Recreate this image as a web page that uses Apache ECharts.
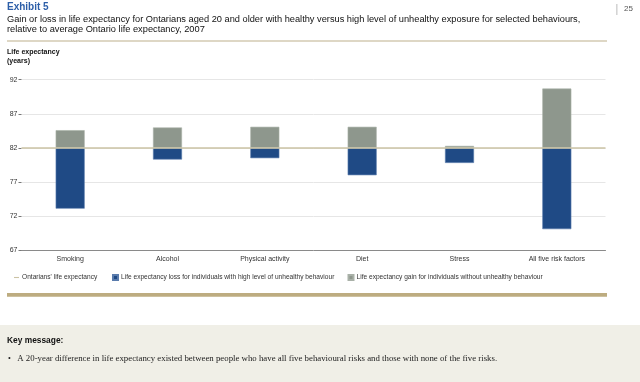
<!DOCTYPE html>
<html>
<head>
<meta charset="utf-8">
<script src="https://cdn.jsdelivr.net/npm/echarts@6/dist/echarts.min.js"></script>
<style>
html,body{margin:0;padding:0;background:#fff;}
#chart{width:640px;height:382px;}
</style>
</head>
<body>
<div id="chart"></div>
<script>
// ---- data ----
const categories = ['Smoking', 'Alcohol', 'Physical activity', 'Diet', 'Stress', 'All five risk factors'];
const averageLifeExpectancy = 82;
const highRiskLifeExpectancy = [73.1, 80.3, 80.5, 78.0, 79.8, 70.1];
const healthyLifeExpectancy = [84.6, 85.0, 85.1, 85.1, 82.3, 90.7];
const yTickLabels = [67, 72, 77, 82, 87, 92];
const seriesNames = [
  "Ontarians' life expectancy",
  'Life expectancy loss for individuals with high level of unhealthy behaviour',
  'Life expectancy gain for individuals without unhealthy behaviour'
];

// ---- build ----
const AXIS_MIN = yTickLabels[0];
const AXIS_MAX = yTickLabels[yTickLabels.length - 1];
const STEP = yTickLabels[1] - yTickLabels[0];
const baseVals = highRiskLifeExpectancy.map(v => +(v - AXIS_MIN).toFixed(2));
const lossVals = highRiskLifeExpectancy.map(v => +(averageLifeExpectancy - v).toFixed(2));
const gainVals = healthyLifeExpectancy.map(v => +(v - averageLifeExpectancy).toFixed(2));

const SANS = '"Liberation Sans", Arial, Helvetica, sans-serif';
const SERIF = '"Liberation Serif", "DejaVu Serif", serif';
const BLUE = '#1f4a85';
const GRAY = '#8e978d';
const TAN = '#cbc3a4';

const chart = echarts.init(document.getElementById('chart'), null, {renderer: 'canvas'});

function legendAt(left, name, icon) {
  return {
    left: left, top: 274, orient: 'horizontal', selectedMode: false,
    itemWidth: 5, itemHeight: 5, itemGap: 0, padding: 0,
    textStyle: {fontFamily: SANS, fontSize: 6.6, color: '#333', padding: [0, 0, 0, -2]},
    data: [{name: name, icon: icon}]
  };
}

chart.setOption({
  animation: false,
  backgroundColor: '#fff',
  textStyle: {fontFamily: SANS},
  grid: {left: 21.5, right: 34.5, top: 79.7, bottom: 131.7, containLabel: false},
  legend: [
    legendAt(14, seriesNames[0], 'path://M0,0L10,0L10,2.2L0,2.2Z'),
    legendAt(112, seriesNames[1], 'rect'),
    legendAt(347.5, seriesNames[2], 'rect')
  ],
  xAxis: {
    type: 'category',
    data: categories,
    axisLine: {show: true, lineStyle: {color: '#8a8a8a', width: 1}},
    axisTick: {show: false},
    axisLabel: {fontFamily: SANS, fontSize: 7, color: '#333', margin: 5}
  },
  yAxis: {
    type: 'value',
    min: 0, max: AXIS_MAX - AXIS_MIN, interval: STEP,
    axisLine: {show: false},
    axisTick: {show: true, length: 3, lineStyle: {color: '#777', width: 1}},
    axisLabel: {fontFamily: SANS, fontSize: 7, color: '#333', margin: 4,
      formatter: v => String(v + AXIS_MIN)},
    splitLine: {show: true, lineStyle: {color: '#e6e6e6', width: 1}}
  },
  series: [
    {
      name: '_base', type: 'bar', stack: 'le', data: baseVals, barWidth: 29,
      itemStyle: {color: 'rgba(0,0,0,0)'}, silent: true
    },
    {
      name: seriesNames[1], type: 'bar', stack: 'le', data: lossVals, barWidth: 29,
      itemStyle: {color: BLUE, borderColor: '#5a7cad', borderWidth: 0.6}
    },
    {
      name: seriesNames[2], type: 'bar', stack: 'le', data: gainVals, barWidth: 29,
      itemStyle: {color: GRAY, borderColor: '#a9b1a8', borderWidth: 0.6}
    },
    {
      name: seriesNames[0], type: 'line', data: [],
      itemStyle: {color: TAN}, lineStyle: {color: TAN},
      markLine: {
        silent: true, symbol: 'none', label: {show: false},
        lineStyle: {color: TAN, width: 1.5, type: 'solid'},
        data: [{yAxis: averageLifeExpectancy - AXIS_MIN}]
      }
    }
  ],
  graphic: [
    {type: 'text', x: 7, y: 7, style: {text: 'Exhibit 5', font: 'bold 10px ' + SANS, fill: '#2c5ea8', verticalAlign: 'middle', textVerticalAlign: 'middle'}},
    {type: 'text', x: 7, y: 19, style: {text: 'Gain or loss in life expectancy for Ontarians aged 20 and older with healthy versus high level of unhealthy exposure for selected behaviours,', font: '9.25px ' + SANS, fill: '#111', verticalAlign: 'middle', textVerticalAlign: 'middle'}},
    {type: 'text', x: 7, y: 29.5, style: {text: 'relative to average Ontario life expectancy, 2007', font: '9.25px ' + SANS, fill: '#111', verticalAlign: 'middle', textVerticalAlign: 'middle'}},
    {type: 'rect', shape: {x: 7, y: 40.2, width: 600, height: 1.6}, style: {fill: '#d3cab2'}},
    {type: 'text', x: 7, y: 52, style: {text: 'Life expectancy', font: 'bold 7px ' + SANS, fill: '#111', verticalAlign: 'middle', textVerticalAlign: 'middle'}},
    {type: 'text', x: 7, y: 61, style: {text: '(years)', font: 'bold 7px ' + SANS, fill: '#111', verticalAlign: 'middle', textVerticalAlign: 'middle'}},
    {type: 'rect', shape: {x: 616.5, y: 4, width: 0.8, height: 11}, style: {fill: '#aaa'}},
    {type: 'text', x: 624, y: 9, style: {text: '25', font: '8px ' + SANS, fill: '#555', verticalAlign: 'middle', textVerticalAlign: 'middle'}},
    {type: 'rect', shape: {x: 7, y: 293, width: 600, height: 3.8}, style: {fill: '#bdac80'}},
    {type: 'rect', shape: {x: 0, y: 325, width: 640, height: 57}, style: {fill: '#f0efe7'}},
    {type: 'text', x: 7, y: 341, style: {text: 'Key message:', font: 'bold 8.4px ' + SANS, fill: '#111', verticalAlign: 'middle', textVerticalAlign: 'middle'}},
    {type: 'text', x: 8, y: 359, style: {text: '\u2022', font: '8px ' + SERIF, fill: '#222', verticalAlign: 'middle', textVerticalAlign: 'middle'}},
    {type: 'text', x: 17.3, y: 359, style: {text: 'A 20-year difference in life expectancy existed between people who have all five behavioural risks and those with none of the five risks.', font: '8.8px ' + SERIF, fill: '#222', verticalAlign: 'middle', textVerticalAlign: 'middle'}}
  ]
});
</script>
</body>
</html>
